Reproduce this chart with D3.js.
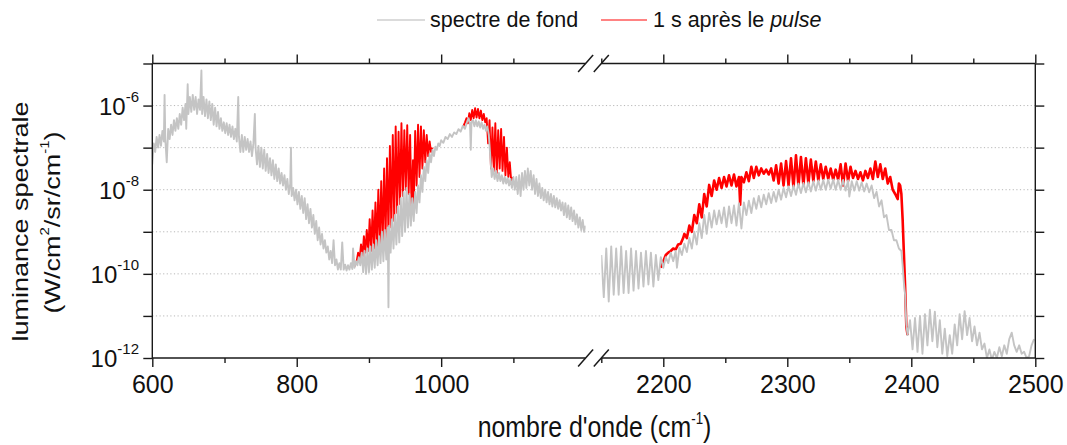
<!DOCTYPE html>
<html><head><meta charset="utf-8">
<script src="https://cdn.jsdelivr.net/npm/d3@7"></script>
<style>
body{margin:0;background:#fff;}
svg{display:block;font-family:"Liberation Sans",Arial,sans-serif;}
</style></head><body>
<svg id="chart" width="1067" height="445"></svg>
<script>
// ---------- data ----------
const seriesNames = ["spectre de fond", "1 s après le pulse"];
const xDomainLeft = [600, 1200];
const xDomainRight = [2150, 2500];
const xTicksLeft = [600, 800, 1000];
const xMinorLeft = [700, 900, 1100];
const xTicksRight = [2200, 2300, 2400, 2500];
const xMinorRight = [2150, 2250, 2350, 2450];
const yDecades = [1e-12, 1e-11, 1e-10, 1e-9, 1e-8, 1e-7, 1e-6, 1e-5];
const yLabelExponents = [-12, -10, -8, -6];
const yGrid = [1e-11, 1e-10, 1e-9, 1e-8, 1e-7, 1e-6];

// spectre de fond, 600-1200 cm-1
const grayLeft = [[600,4.0e-8],[602,1.26e-7],[604,7.9e-8],[606,1.8e-7],[608,1.0e-7],[610,2.0e-7],[612,1.1e-7],[614,2.5e-7],[616,1.4e-7],[617,1.8e-6],[618,1.6e-7],[620,4.5e-8],[622,2.8e-7],[624,1.6e-7],[626,3.5e-7],[628,2.0e-7],[630,4.5e-7],[632,2.5e-7],[634,5.0e-7],[636,2.8e-7],[638,6.3e-7],[640,3.5e-7],[642,8.9e-7],[644,4.5e-7],[646,1.1e-6],[647,2.8e-7],[649,3.2e-6],[650,6.3e-7],[652,1.6e-6],[654,7.1e-7],[656,1.8e-6],[658,7.9e-7],[660,1.6e-6],[662,6.3e-7],[664,1.4e-6],[666,7.9e-7],[668,6.8e-6],[669,6.3e-7],[671,1.6e-6],[673,5.6e-7],[675,1.4e-6],[677,5.0e-7],[679,1.26e-6],[681,4.5e-7],[683,1.1e-6],[685,3.5e-7],[687,8.9e-7],[689,3.2e-7],[691,7.1e-7],[693,2.8e-7],[695,5.0e-7],[697,2.5e-7],[699,4.0e-7],[701,2.2e-7],[703,3.8e-7],[705,2.0e-7],[707,3.5e-7],[709,1.8e-7],[711,3.2e-7],[713,1.6e-7],[715,2.8e-7],[717,1.4e-7],[719,1.6e-6],[720,1.8e-7],[722,7.9e-8],[724,2.0e-7],[726,7.9e-8],[728,1.8e-7],[730,8.9e-8],[732,1.6e-7],[734,7.9e-8],[736,1.4e-7],[738,6.3e-8],[740,1.26e-7],[742,6.3e-7],[743,1.0e-7],[745,4.0e-8],[747,1.1e-7],[749,3.5e-8],[751,1.0e-7],[753,3.2e-8],[755,8.9e-8],[757,2.8e-8],[759,7.1e-8],[761,2.5e-8],[763,5.6e-8],[765,2.2e-8],[767,5.0e-8],[769,1.8e-8],[771,4.0e-8],[773,1.6e-8],[775,3.2e-8],[777,1.4e-8],[779,2.5e-8],[781,1.26e-8],[783,2.2e-8],[785,1.0e-8],[787,1.8e-8],[789,7.9e-9],[791,1.4e-8],[792,1.0e-7],[793,7.1e-9],[795,1.1e-8],[797,5.6e-9],[799,1.0e-8],[801,4.5e-9],[803,8.9e-9],[805,3.5e-9],[807,7.1e-9],[809,2.8e-9],[811,6.3e-9],[813,2.0e-9],[815,4.5e-9],[817,1.6e-9],[819,3.5e-9],[821,1.26e-9],[823,2.5e-9],[825,8.9e-10],[827,1.8e-9],[829,6.3e-10],[831,1.26e-9],[833,5.0e-10],[835,8.9e-10],[837,4.0e-10],[839,6.3e-10],[841,3.2e-10],[843,4.5e-10],[845,2.2e-10],[847,3.5e-10],[849,1.8e-10],[851,6.3e-10],[853,1.6e-10],[855,2.2e-10],[857,1.26e-10],[859,1.8e-10],[861,1.26e-10],[863,5.6e-10],[865,1.26e-10],[867,1.66e-10],[869,1.2e-10],[871,1.6e-10],[873,1.26e-10],[875,1.8e-10],[877,1.3e-10],[878,4.0e-10],[880,1.4e-10],[882,2.0e-10],[884,1.6e-10],[886,2.5e-10],[888,1.6e-10],[890,3.2e-10],[892,1.1e-10],[894,3.5e-10],[896,1.0e-10],[898,4.0e-10],[900,1.1e-10],[902,4.5e-10],[904,1.26e-10],[906,5.0e-10],[908,1.4e-10],[910,6.3e-10],[912,1.6e-10],[914,7.9e-10],[916,1.8e-10],[918,1.0e-9],[920,2.0e-10],[922,1.1e-9],[924,2.2e-10],[926,1.26e-9],[927,1.6e-11],[928,1.4e-9],[930,3.2e-10],[932,2.0e-9],[934,4.0e-10],[936,2.5e-9],[938,5.0e-10],[940,4.0e-9],[942,5.6e-10],[944,6.3e-9],[946,7.9e-10],[948,8.9e-9],[950,1.0e-9],[952,1.1e-8],[954,1.26e-9],[956,7.9e-9],[958,1.4e-9],[960,6.3e-9],[962,1.8e-9],[964,8.9e-9],[966,2.8e-9],[968,1.26e-8],[970,5.0e-9],[972,2.2e-8],[974,8.9e-9],[976,3.5e-8],[978,1.6e-8],[980,5.0e-8],[982,2.5e-8],[984,7.1e-8],[986,4.5e-8],[988,8.9e-8],[990,6.3e-8],[992,1.05e-7],[994,8.9e-8],[996,1.26e-7],[998,1.1e-7],[1000,1.5e-7],[1003,1.3e-7],[1006,1.8e-7],[1009,1.6e-7],[1012,2.1e-7],[1015,1.8e-7],[1018,2.3e-7],[1021,2.1e-7],[1024,2.75e-7],[1027,2.4e-7],[1030,3.3e-7],[1033,2.8e-7],[1036,4.2e-7],[1038,5.0e-7],[1040,3.5e-7],[1041,8.9e-8],[1042,4.0e-7],[1044,4.5e-7],[1046,3.2e-7],[1048,4.5e-7],[1050,3.2e-7],[1052,4.2e-7],[1054,3.0e-7],[1056,4.0e-7],[1058,2.8e-7],[1060,3.5e-7],[1062,2.5e-7],[1064,3.2e-7],[1066,2.0e-7],[1068,6.3e-8],[1070,2.0e-8],[1072,3.2e-8],[1074,1.8e-8],[1076,2.8e-8],[1078,1.6e-8],[1080,2.5e-8],[1082,1.6e-8],[1084,2.2e-8],[1086,1.4e-8],[1088,2.0e-8],[1090,1.4e-8],[1092,1.9e-8],[1094,1.26e-8],[1096,1.8e-8],[1098,1.1e-8],[1100,2.0e-8],[1102,1.0e-8],[1104,2.0e-8],[1106,7.9e-9],[1108,2.2e-8],[1110,7.1e-9],[1112,2.5e-8],[1114,1.0e-8],[1116,2.8e-8],[1118,1.1e-8],[1120,3.2e-8],[1122,1.26e-8],[1124,2.8e-8],[1126,1.0e-8],[1128,2.2e-8],[1130,7.9e-9],[1132,1.8e-8],[1134,7.1e-9],[1136,1.4e-8],[1138,6.3e-9],[1140,1.1e-8],[1142,5.6e-9],[1144,1.0e-8],[1146,5.0e-9],[1148,8.9e-9],[1150,4.5e-9],[1152,7.9e-9],[1154,4.0e-9],[1156,7.1e-9],[1158,3.8e-9],[1160,6.3e-9],[1162,3.5e-9],[1164,5.6e-9],[1166,3.2e-9],[1168,5.0e-9],[1170,2.5e-9],[1172,4.8e-9],[1174,2.2e-9],[1176,4.2e-9],[1178,2.0e-9],[1180,3.8e-9],[1182,1.8e-9],[1184,3.2e-9],[1186,1.5e-9],[1188,2.6e-9],[1190,1.26e-9],[1192,2.2e-9],[1194,1.1e-9],[1196,1.9e-9],[1198,1.0e-9],[1200,1.4e-9]];

// spectre de fond, 2150-2500 cm-1
const grayRight = [[2150,2.8e-10],[2152,2.8e-11],[2154,4.0e-10],[2156,2.2e-11],[2158,4.5e-10],[2160,3.2e-11],[2162,4.0e-10],[2164,3.2e-11],[2166,4.5e-10],[2168,3.5e-11],[2170,3.5e-10],[2172,3.5e-11],[2174,4.0e-10],[2176,4.0e-11],[2178,3.5e-10],[2180,4.5e-11],[2182,3.2e-10],[2184,5.0e-11],[2186,3.5e-10],[2188,5.6e-11],[2190,3.2e-10],[2192,5.0e-11],[2194,2.8e-10],[2196,7.1e-11],[2198,2.5e-10],[2200,1.4e-10],[2202,2.5e-10],[2204,1.8e-10],[2206,3.2e-10],[2208,2.0e-10],[2210,3.5e-10],[2211,1.4e-10],[2213,4.2e-10],[2215,2.8e-10],[2217,5.2e-10],[2219,3.3e-10],[2221,7.1e-10],[2223,4.0e-10],[2225,1.0e-9],[2227,5.0e-10],[2229,1.6e-9],[2231,7.1e-10],[2233,2.5e-9],[2235,8.9e-10],[2237,2.8e-9],[2239,1.26e-9],[2241,3.2e-9],[2243,1.5e-9],[2245,3.2e-9],[2247,1.6e-9],[2249,3.8e-9],[2251,1.3e-9],[2253,4.0e-9],[2255,1.6e-9],[2257,4.2e-9],[2259,1.4e-9],[2261,4.8e-9],[2263,1.2e-9],[2265,5.0e-9],[2267,2.5e-9],[2269,5.5e-9],[2271,2.8e-9],[2273,6.3e-9],[2275,3.5e-9],[2277,7.1e-9],[2279,3.8e-9],[2281,7.6e-9],[2283,4.5e-9],[2285,8.3e-9],[2287,4.8e-9],[2289,8.9e-9],[2291,5.2e-9],[2293,1.0e-8],[2295,5.8e-9],[2297,1.1e-8],[2299,6.6e-9],[2301,1.2e-8],[2303,7.1e-9],[2305,1.26e-8],[2307,7.6e-9],[2309,1.4e-8],[2311,8.3e-9],[2313,1.45e-8],[2315,8.7e-9],[2317,1.5e-8],[2319,9.1e-9],[2321,1.6e-8],[2323,9.5e-9],[2325,1.66e-8],[2327,1.0e-8],[2329,1.7e-8],[2331,1.0e-8],[2333,1.74e-8],[2335,1.05e-8],[2337,1.74e-8],[2339,1.0e-8],[2341,1.7e-8],[2343,1.0e-8],[2345,1.7e-8],[2347,9.5e-9],[2349,1.66e-8],[2350,6.9e-9],[2352,1.6e-8],[2354,9.5e-9],[2356,1.6e-8],[2358,9.5e-9],[2360,1.5e-8],[2362,9.1e-9],[2364,1.4e-8],[2366,8.7e-9],[2368,1.26e-8],[2370,6.3e-9],[2372,8.9e-9],[2374,4.0e-9],[2376,5.6e-9],[2378,2.2e-9],[2380,2.5e-9],[2382,1.1e-9],[2384,1.1e-9],[2386,6.3e-10],[2388,6.3e-10],[2390,4.0e-10],[2392,3.5e-10],[2393,1.6e-10],[2394,6.3e-11],[2395,3.2e-11],[2396,6.3e-12],[2397,3.5e-12],[2399,7.9e-12],[2401,1.6e-12],[2403,8.9e-12],[2405,1.4e-12],[2407,1.0e-11],[2409,1.26e-12],[2411,1.1e-11],[2413,2.0e-12],[2415,1.4e-11],[2417,2.5e-12],[2419,1.26e-11],[2421,1.8e-12],[2423,7.9e-12],[2425,1.26e-12],[2427,5.0e-12],[2429,1.1e-12],[2431,3.5e-12],[2433,1.26e-12],[2435,6.3e-12],[2437,2.0e-12],[2439,1.1e-11],[2441,2.8e-12],[2443,1.3e-11],[2445,3.5e-12],[2447,8.9e-12],[2449,2.5e-12],[2451,5.6e-12],[2453,2.0e-12],[2455,4.0e-12],[2457,1.6e-12],[2459,2.2e-12],[2461,1.0e-12],[2463,1.6e-12],[2465,9.0e-13],[2467,1.4e-12],[2469,1.0e-12],[2471,1.8e-12],[2473,1.1e-12],[2475,2.0e-12],[2477,1.26e-12],[2479,2.8e-12],[2481,4.0e-12],[2483,2.0e-12],[2485,1.4e-12],[2487,2.0e-12],[2489,1.26e-12],[2491,1.4e-12],[2493,1.0e-12],[2495,1.1e-12],[2497,2.0e-12],[2499,2.8e-12]];

// 1 s après le pulse, first band (880-990 cm-1)
const redLeftA = [[880,1.5e-10],[883,2.0e-10],[885,3.2e-10],[887,2.2e-10],[889,5.0e-10],[891,2.5e-10],[893,7.9e-10],[895,3.2e-10],[897,1.1e-9],[899,3.5e-10],[901,2.0e-9],[903,3.5e-10],[905,3.2e-9],[907,4.0e-10],[909,5.0e-9],[911,4.5e-10],[913,1.0e-8],[915,5.0e-10],[917,1.6e-8],[919,5.6e-10],[921,3.2e-8],[923,7.1e-10],[925,5.6e-8],[927,8.9e-10],[929,1.1e-7],[931,1.26e-9],[933,2.0e-7],[935,1.8e-9],[937,3.2e-7],[939,2.8e-9],[941,2.4e-7],[943,4.5e-9],[945,3.8e-7],[947,7.1e-9],[949,2.6e-7],[951,1.0e-8],[953,3.4e-7],[955,7.9e-9],[957,2.0e-7],[959,3.5e-9],[961,5.0e-8],[962,3.5e-9],[964,2.5e-7],[966,1.26e-8],[968,3.5e-7],[970,2.0e-8],[972,3.2e-7],[974,3.2e-8],[976,2.6e-7],[978,4.5e-8],[980,2.0e-7],[982,6.3e-8],[984,1.4e-7],[986,7.9e-8],[988,1.0e-7]];
// 1 s après le pulse, second band (1030-1100 cm-1)
const redLeftB = [[1030,3.0e-7],[1033,4.0e-7],[1035,5.0e-7],[1037,3.8e-7],[1039,6.6e-7],[1041,4.5e-7],[1043,7.9e-7],[1045,5.0e-7],[1047,8.7e-7],[1049,5.2e-7],[1051,8.3e-7],[1053,5.0e-7],[1055,7.6e-7],[1057,4.5e-7],[1059,6.3e-7],[1061,4.0e-7],[1063,5.0e-7],[1065,1.26e-7],[1067,4.5e-7],[1069,3.2e-8],[1071,3.0e-7],[1073,2.8e-8],[1075,3.8e-7],[1077,2.5e-8],[1079,2.6e-7],[1081,3.2e-8],[1083,2.8e-7],[1085,2.8e-8],[1087,1.8e-7],[1089,2.2e-8],[1091,1.0e-7],[1093,2.0e-8],[1095,4.5e-8],[1097,1.6e-8],[1099,2.0e-8]];
// 1 s après le pulse, 2198-2397 cm-1
const redRight = [[2198,1.4e-10],[2202,2.8e-10],[2204,3.2e-10],[2206,3.5e-10],[2208,4.0e-10],[2210,3.8e-10],[2212,5.0e-10],[2214,5.2e-10],[2216,7.1e-10],[2217,8.9e-10],[2219,7.1e-10],[2221,1.4e-9],[2223,1.0e-9],[2225,2.5e-9],[2227,1.6e-9],[2229,4.5e-9],[2231,2.2e-9],[2233,7.9e-9],[2235,4.0e-9],[2237,1.3e-8],[2239,7.1e-9],[2241,1.66e-8],[2243,1.0e-8],[2245,1.9e-8],[2247,1.1e-8],[2249,2.0e-8],[2251,1.2e-8],[2253,2.2e-8],[2255,1.26e-8],[2257,2.3e-8],[2259,1.2e-8],[2261,2.0e-8],[2262,4.4e-9],[2263,2.0e-8],[2265,1.5e-8],[2267,2.6e-8],[2269,1.6e-8],[2271,3.5e-8],[2273,1.9e-8],[2275,3.5e-8],[2277,2.2e-8],[2279,3.2e-8],[2281,2.4e-8],[2283,3.0e-8],[2285,2.3e-8],[2287,3.2e-8],[2289,1.66e-8],[2291,3.8e-8],[2293,1.4e-8],[2295,4.2e-8],[2297,1.26e-8],[2299,4.8e-8],[2301,1.26e-8],[2303,5.6e-8],[2305,1.1e-8],[2307,6.6e-8],[2309,1.2e-8],[2311,6.0e-8],[2313,1.26e-8],[2315,5.6e-8],[2317,1.4e-8],[2319,5.2e-8],[2321,1.6e-8],[2323,4.7e-8],[2325,1.66e-8],[2327,4.0e-8],[2329,1.8e-8],[2331,3.5e-8],[2333,1.8e-8],[2335,3.2e-8],[2337,1.74e-8],[2339,3.0e-8],[2341,1.74e-8],[2343,4.0e-8],[2345,1.26e-8],[2347,4.2e-8],[2349,1.6e-8],[2351,3.5e-8],[2353,1.9e-8],[2355,2.8e-8],[2357,1.8e-8],[2359,2.6e-8],[2361,1.66e-8],[2363,2.8e-8],[2365,1.9e-8],[2367,3.2e-8],[2369,1.8e-8],[2371,4.7e-8],[2373,2.0e-8],[2375,4.0e-8],[2377,1.8e-8],[2379,3.2e-8],[2381,1.4e-8],[2383,2.0e-8],[2385,1.0e-8],[2387,7.9e-9],[2389,6.0e-9],[2390,1.4e-8],[2391,1.26e-8],[2392,7.9e-9],[2393,2.0e-9],[2394,3.2e-10],[2395,5.0e-11],[2396,5.6e-12],[2397,3.5e-12]];

// ---------- layout ----------
const P = {top: 63.5, bottom: 358, left: 152.3, gapL: 585.6, gapR: 601.3, right: 1035.3};
const AX = "#1a1a1a";
const GRAY = "#c4c4c4", RED = "#ff0000";
const svg = d3.select("#chart");

const xL = d3.scaleLinear().domain(xDomainLeft).range([P.left, P.gapL]);
const xR = d3.scaleLinear().domain(xDomainRight).range([P.gapR, P.right]);
const y = d3.scaleLog().domain([1e-12, 1e-5]).range([P.bottom, P.top]);

const defs = svg.append("defs");
defs.append("clipPath").attr("id", "clipL").append("rect")
  .attr("x", P.left).attr("y", P.top).attr("width", P.gapL - P.left).attr("height", P.bottom - P.top);
defs.append("clipPath").attr("id", "clipR").append("rect")
  .attr("x", P.gapR).attr("y", P.top).attr("width", P.right - P.gapR).attr("height", P.bottom - P.top);

// grid
svg.append("g").selectAll("line").data(yGrid).join("line")
  .attr("x1", P.left).attr("x2", P.right)
  .attr("y1", d => y(d)).attr("y2", d => y(d))
  .attr("stroke", "#b8b8b8").attr("stroke-width", 1).attr("stroke-dasharray", "1.2,2.4");

// series
function drawSeries(data, xs, clip, color, w) {
  const line = d3.line().x(d => xs(d[0])).y(d => y(d[1]));
  svg.append("path").datum(data).attr("d", line)
    .attr("clip-path", `url(#${clip})`)
    .attr("fill", "none").attr("stroke", color).attr("stroke-width", w)
    .attr("stroke-linejoin", "round");
}
drawSeries(redLeftA, xL, "clipL", RED, 1.9);
drawSeries(redLeftB, xL, "clipL", RED, 1.9);
drawSeries(redRight, xR, "clipR", RED, 2.6);
drawSeries(grayLeft, xL, "clipL", GRAY, 1.9);
drawSeries(grayRight, xR, "clipR", GRAY, 1.9);

// axes
function styleAxis(g) {
  g.select(".domain").remove();
  g.attr("color", AX).attr("font-family", "Liberation Sans, Arial, sans-serif").attr("font-size", 25);
  g.selectAll(".tick line").attr("stroke-width", 1.4);
  g.selectAll(".tick text").attr("fill", "#111");
}
const fmt = d3.format("d");
svg.append("g").attr("transform", `translate(0,${P.bottom})`)
  .call(d3.axisBottom(xL).tickValues(xTicksLeft).tickSize(9).tickPadding(8).tickFormat(fmt)).call(styleAxis);
svg.append("g").attr("transform", `translate(0,${P.bottom})`)
  .call(d3.axisBottom(xL).tickValues(xMinorLeft).tickSize(5).tickFormat("")).call(styleAxis);
svg.append("g").attr("transform", `translate(0,${P.bottom})`)
  .call(d3.axisBottom(xR).tickValues(xTicksRight).tickSize(9).tickPadding(8).tickFormat(fmt)).call(styleAxis);
svg.append("g").attr("transform", `translate(0,${P.bottom})`)
  .call(d3.axisBottom(xR).tickValues(xMinorRight).tickSize(5).tickFormat("")).call(styleAxis);
svg.append("g").attr("transform", `translate(0,${P.top})`)
  .call(d3.axisTop(xL).tickValues(xTicksLeft).tickSize(9).tickFormat("")).call(styleAxis);
svg.append("g").attr("transform", `translate(0,${P.top})`)
  .call(d3.axisTop(xL).tickValues(xMinorLeft).tickSize(5).tickFormat("")).call(styleAxis);
svg.append("g").attr("transform", `translate(0,${P.top})`)
  .call(d3.axisTop(xR).tickValues(xTicksRight).tickSize(9).tickFormat("")).call(styleAxis);
svg.append("g").attr("transform", `translate(0,${P.top})`)
  .call(d3.axisTop(xR).tickValues(xMinorRight).tickSize(5).tickFormat("")).call(styleAxis);
svg.append("g").attr("transform", `translate(${P.left},0)`)
  .call(d3.axisLeft(y).tickValues(yDecades).tickSize(9).tickFormat("")).call(styleAxis);
svg.append("g").attr("transform", `translate(${P.right},0)`)
  .call(d3.axisRight(y).tickValues(yDecades).tickSize(9).tickFormat("")).call(styleAxis);

// y tick labels 10^n
const yl = svg.append("g").attr("font-size", 24).attr("fill", "#111");
yLabelExponents.forEach(e => {
  const t = yl.append("text").attr("x", 139).attr("y", y(Math.pow(10, e)) + 9).attr("text-anchor", "end");
  t.append("tspan").text("10");
  t.append("tspan").attr("font-size", 15).attr("dy", -13).text(String(e));
});

// frame with axis breaks
const frame = svg.append("g").attr("stroke", AX).attr("stroke-width", 1.4).attr("fill", "none");
frame.append("line").attr("x1", P.left).attr("x2", P.left).attr("y1", P.top).attr("y2", P.bottom);
frame.append("line").attr("x1", P.right).attr("x2", P.right).attr("y1", P.top).attr("y2", P.bottom);
[P.top, P.bottom].forEach(yy => {
  frame.append("line").attr("x1", P.left).attr("x2", P.gapL).attr("y1", yy).attr("y2", yy);
  frame.append("line").attr("x1", P.gapR).attr("x2", P.right).attr("y1", yy).attr("y2", yy);
  [P.gapL, P.gapR].forEach(xx => {
    frame.append("line").attr("x1", xx - 7.5).attr("y1", yy + 8.5).attr("x2", xx + 7.5).attr("y2", yy - 8.5)
      .attr("stroke-width", 1.5);
  });
});

// axis titles
const xt = svg.append("text").attr("transform", "translate(594.5,436.5) scale(0.83,1)")
  .attr("text-anchor", "middle").attr("font-size", 30).attr("fill", "#111");
xt.append("tspan").text("nombre d'onde (cm");
xt.append("tspan").attr("font-size", 16).attr("dy", -13).text("-1");
xt.append("tspan").attr("dy", 13).text(")");

svg.append("text").attr("transform", "translate(28,221.5) rotate(-90) scale(1,0.8)")
  .attr("text-anchor", "middle").attr("font-size", 27).attr("fill", "#111").text("luminance spectrale");
const yt2 = svg.append("text").attr("transform", "translate(60,222.5) rotate(-90) scale(1,0.8)")
  .attr("text-anchor", "middle").attr("font-size", 27).attr("fill", "#111");
yt2.append("tspan").text("(W/cm");
yt2.append("tspan").attr("font-size", 15).attr("dy", -14).text("2");
yt2.append("tspan").attr("dy", 14).text("/sr/cm");
yt2.append("tspan").attr("font-size", 15).attr("dy", -14).text("-1");
yt2.append("tspan").attr("dy", 14).text(")");

// legend
const lg = svg.append("g").attr("font-size", 21.5).attr("fill", "#111");
lg.append("line").attr("x1", 377).attr("x2", 425).attr("y1", 20).attr("y2", 20)
  .attr("stroke", "#cfcfcf").attr("stroke-width", 1.4);
lg.append("text").attr("x", 430).attr("y", 27).text(seriesNames[0]);
lg.append("line").attr("x1", 601).attr("x2", 647).attr("y1", 20).attr("y2", 20)
  .attr("stroke", "#ff5a5a").attr("stroke-width", 1.4);
const lt = lg.append("text").attr("x", 653).attr("y", 27);
lt.append("tspan").text("1 s après le ");
lt.append("tspan").attr("font-style", "italic").text("pulse");
</script>
</body></html>
